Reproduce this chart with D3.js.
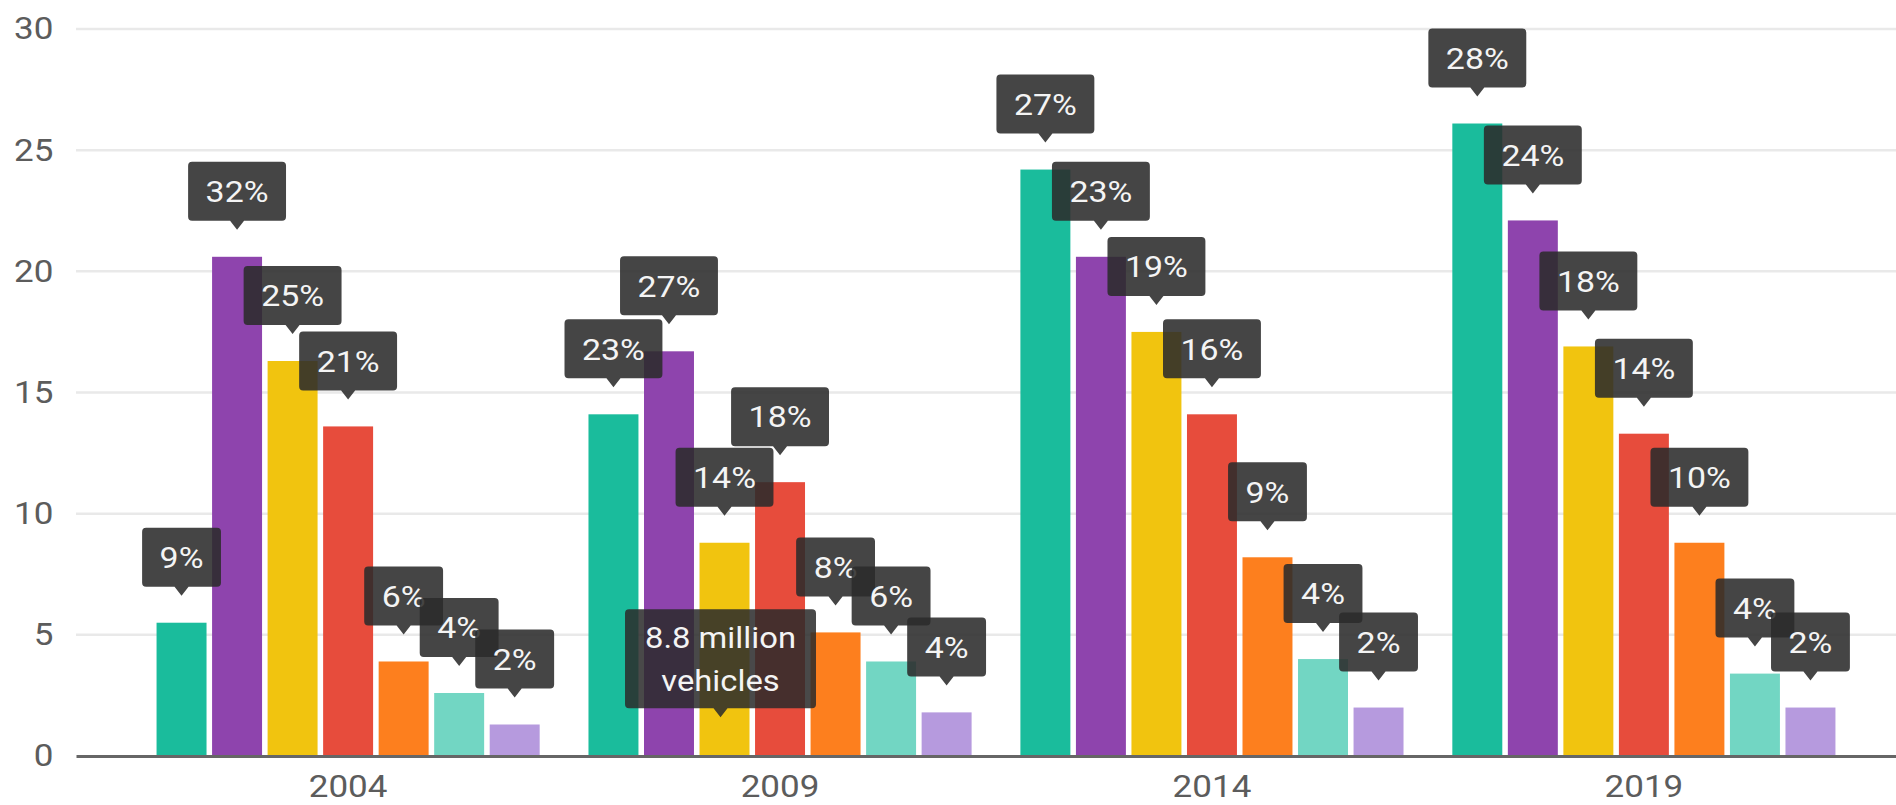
<!DOCTYPE html>
<html>
<head>
<meta charset="utf-8">
<script src="https://cdn.jsdelivr.net/npm/d3@7"></script>
<style>
  html, body { margin: 0; padding: 0; background: #ffffff; }
  svg { display: block; font-family: Roboto, "Noto Sans", Arial, sans-serif; }
</style>
</head>
<body>
<svg id="chart" width="1896" height="805"></svg>
<script>
// ---- data (millions of vehicles per segment, by year) ----
const years = ["2004", "2009", "2014", "2019"];
const seriesColors = ["#1abc9c", "#8e44ad", "#f1c40f", "#e74c3c", "#fd7f1e", "#72d6c3", "#b69ade"];

const values2004 = [5.5, 20.6, 16.3, 13.6, 3.9, 2.6, 1.3];
const values2009 = [14.1, 16.7, 8.8, 11.3, 5.1, 3.9, 1.8];
const values2014 = [24.2, 20.6, 17.5, 14.1, 8.2, 4.0, 2.0];
const values2019 = [26.1, 22.1, 16.9, 13.3, 8.8, 3.4, 2.0];

// share of the year's total, shown in the bubbles above each bar
const shares2004 = ["9%", "32%", "25%", "21%", "6%", "4%", "2%"];
const shares2009 = ["23%", "27%", "14%", "18%", "8%", "6%", "4%"];
const shares2014 = ["27%", "23%", "19%", "16%", "9%", "4%", "2%"];
const shares2019 = ["28%", "24%", "18%", "14%", "10%", "4%", "2%"];

const yTicks = [0, 5, 10, 15, 20, 25, 30];

// highlighted bar with its detail bubble
const hoverYear = "2009";
const hoverSeries = 2;
const hoverAnchor = 1.6;   // value at which the detail bubble points

// ---- assemble ----
const valuesByYear = { "2004": values2004, "2009": values2009, "2014": values2014, "2019": values2019 };
const sharesByYear = { "2004": shares2004, "2009": shares2009, "2014": shares2014, "2019": shares2019 };
const rows = years.flatMap(yr => valuesByYear[yr].map((v, i) => ({ year: yr, i, value: v, share: sharesByYear[yr][i] })));

const W = 1896, H = 805;
const STRETCH = 1.13;          // horizontal text stretch
const svg = d3.select("#chart");

const x = d3.scaleBand().domain(years).range([76, 1916]).paddingInner(0.113).paddingOuter(0.1865);
const xi = d3.scaleBand().domain(d3.range(seriesColors.length)).range([0, x.bandwidth()]).paddingInner(0.1).paddingOuter(0);
const y = d3.scaleLinear().domain([0, 30]).range([756, 29]);

// gridlines
svg.append("g")
  .selectAll("line")
  .data(yTicks.filter(t => t > 0))
  .join("line")
  .attr("x1", x.range()[0]).attr("x2", x.range()[1])
  .attr("y1", d => y(d)).attr("y2", d => y(d))
  .attr("stroke", "#e9e9e9").attr("stroke-width", 2.5);

// y axis labels
const yAxis = svg.append("g")
  .attr("transform", `translate(${x.range()[0]},0)`)
  .call(d3.axisLeft(y).tickValues(yTicks).tickSize(0).tickPadding(20));
yAxis.select(".domain").remove();
yAxis.selectAll("text")
  .attr("font-size", 31).attr("fill", "#5c5c5c")
  .attr("font-family", "Roboto, sans-serif")
  .attr("transform", `scale(${STRETCH},1)`);

// bars
svg.append("g")
  .selectAll("rect")
  .data(rows)
  .join("rect")
  .attr("x", d => x(d.year) + xi(d.i))
  .attr("y", d => y(d.value))
  .attr("width", xi.bandwidth())
  .attr("height", d => y(0) - y(d.value))
  .attr("fill", d => seriesColors[d.i]);

// x axis with baseline
const xAxis = svg.append("g")
  .attr("transform", `translate(0,${y(0)})`)
  .call(d3.axisBottom(x).tickSize(0).tickSizeOuter(0).tickPadding(19));
xAxis.select(".domain").attr("stroke", "#666666").attr("stroke-width", 3);
xAxis.selectAll("text")
  .attr("font-size", 31).attr("fill", "#5c5c5c")
  .attr("font-family", "Roboto, sans-serif")
  .attr("transform", `scale(${STRETCH},1)`);

// speech-bubble outline: tip at (0,0), box above it
function bubblePath(w, h, r, ph, pw) {
  const l = -w / 2, rt = w / 2, b = -ph, t = -ph - h;
  return `M${l + r},${t}H${rt - r}Q${rt},${t} ${rt},${t + r}V${b - r}Q${rt},${b} ${rt - r},${b}` +
         `H${pw}L0,0L${-pw},${b}H${l + r}Q${l},${b} ${l},${b - r}V${t + r}Q${l},${t} ${l + r},${t}Z`;
}

const BUBBLE_GAP = 27, BUBBLE_H = 59, PTR_H = 9, PTR_W = 7, PAD_X = 17.5;

// share bubbles
const bubbles = svg.append("g")
  .selectAll("g")
  .data(rows)
  .join("g")
  .attr("transform", d => `translate(${x(d.year) + xi(d.i) + xi.bandwidth() / 2},${y(d.value) - BUBBLE_GAP})`);

bubbles.append("path")
  .attr("fill", "#2b2b2b").attr("fill-opacity", 0.88);

bubbles.append("text")
  .attr("text-anchor", "middle")
  .attr("font-size", 30)
  .attr("fill", "#f4f4f4")
  .attr("transform", `translate(0,${-PTR_H - BUBBLE_H / 2}) scale(${STRETCH},1)`)
  .attr("dy", "0.36em")
  .text(d => d.share);

bubbles.each(function () {
  const g = d3.select(this);
  const tw = g.select("text").node().getComputedTextLength() * STRETCH;
  g.select("path").attr("d", bubblePath(tw + 2 * PAD_X, BUBBLE_H, 4, PTR_H, PTR_W));
});

// detail bubble for the highlighted bar
const hv = valuesByYear[hoverYear][hoverSeries];
const hoverLines = [`${hv} million`, "vehicles"];
const HOVER_H = 99, HOVER_PAD = 20, LINE_GAP = 43;
const hover = svg.append("g")
  .attr("transform", `translate(${x(hoverYear) + xi(hoverSeries) + xi.bandwidth() / 2 - 4},${y(hoverAnchor)})`);
const hoverPath = hover.append("path").attr("fill", "#2b2b2b").attr("fill-opacity", 0.86);
const hoverText = hover.append("g")
  .selectAll("text")
  .data(hoverLines)
  .join("text")
  .attr("text-anchor", "middle")
  .attr("font-size", 29)
  .attr("fill", "#f4f4f4")
  .attr("transform", (d, k) => `translate(0,${-PTR_H - HOVER_H + 38.5 + k * LINE_GAP}) scale(${STRETCH},1)`)
  .text(d => d);
const hoverW = d3.max(hoverText.nodes(), n => n.getComputedTextLength()) * STRETCH + 2 * HOVER_PAD;
hoverPath.attr("d", bubblePath(hoverW, HOVER_H, 4, PTR_H, PTR_W));
</script>
</body>
</html>
